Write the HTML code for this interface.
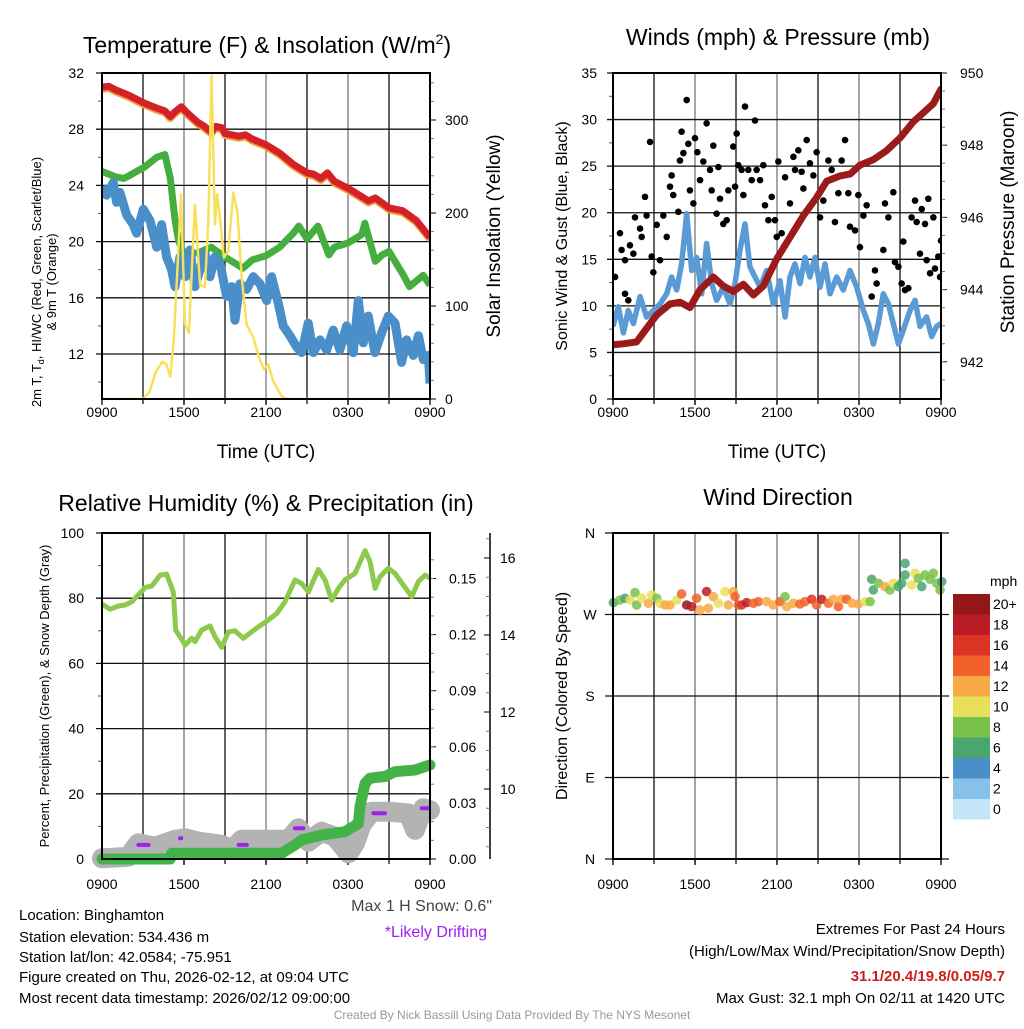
<!DOCTYPE html>
<html><head><meta charset="utf-8"><style>
body{margin:0;background:#fff;}
svg text{font-family:"Liberation Sans",sans-serif;}
</style></head><body>
<svg id="c" width="1024" height="1024" viewBox="0 0 1024 1024" xmlns="http://www.w3.org/2000/svg">
<rect width="1024" height="1024" fill="#fff"/>
<text x="267" y="53" font-size="23" text-anchor="middle">Temperature (F) &amp; Insolation (W/m<tspan dy="-9" font-size="14">2</tspan><tspan dy="9">)</tspan></text>
<text x="778" y="45" font-size="23" text-anchor="middle">Winds (mph) &amp; Pressure (mb)</text>
<text x="266" y="511" font-size="23" text-anchor="middle">Relative Humidity (%) &amp; Precipitation (in)</text>
<text x="778" y="505" font-size="23" text-anchor="middle">Wind Direction</text>
<text x="266" y="458" font-size="19" text-anchor="middle">Time (UTC)</text>
<text x="777" y="458" font-size="19" text-anchor="middle">Time (UTC)</text>
<text transform="translate(41,282) rotate(-90)" font-size="13" text-anchor="middle">2m T, T<tspan font-size="9" dy="3">d</tspan><tspan dy="-3">, HI/WC (Red, Green, Scarlet/Blue)</tspan></text>
<text transform="translate(56,282) rotate(-90)" font-size="13" text-anchor="middle">&amp; 9m T (Orange)</text>
<text transform="translate(500,236) rotate(-90)" font-size="19" text-anchor="middle">Solar Insolation (Yellow)</text>
<text transform="translate(567,236) rotate(-90)" font-size="16" text-anchor="middle">Sonic Wind &amp; Gust (Blue, Black)</text>
<text transform="translate(1014,222) rotate(-90)" font-size="19" text-anchor="middle">Station Pressure (Maroon)</text>
<text transform="translate(49,696) rotate(-90)" font-size="13" text-anchor="middle">Percent, Precipitation (Green), &amp; Snow Depth (Gray)</text>
<text transform="translate(567,696) rotate(-90)" font-size="16" text-anchor="middle">Direction (Colored By Speed)</text>
<text x="492" y="911" font-size="16" fill="#444" text-anchor="end">Max 1 H Snow: 0.6"</text>
<text x="487" y="937" font-size="16" fill="#a020f0" text-anchor="end">*Likely Drifting</text>
<g font-size="15">
<text x="19" y="920">Location: Binghamton</text>
<text x="19" y="942">Station elevation: 534.436 m</text>
<text x="19" y="962">Station lat/lon: 42.0584; -75.951</text>
<text x="19" y="982">Figure created on Thu, 2026-02-12, at 09:04 UTC</text>
<text x="19" y="1003">Most recent data timestamp: 2026/02/12 09:00:00</text>
</g>
<g font-size="15" text-anchor="end">
<text x="1005" y="934">Extremes For Past 24 Hours</text>
<text x="1005" y="956">(High/Low/Max Wind/Precipitation/Snow Depth)</text>
<text x="1005" y="981" font-weight="bold" fill="#d01c1c">31.1/20.4/19.8/0.05/9.7</text>
<text x="1005" y="1003">Max Gust: 32.1 mph On 02/11 at 1420 UTC</text>
</g>
<text x="512" y="1019" font-size="12" fill="#999" text-anchor="middle">Created By Nick Bassill Using Data Provided By The NYS Mesonet</text>
</svg>
<script>
// ---- Panel 1 data ----
const redH=[0,0.5,1,2,3,4,4.6,5.0,5.3,5.8,6.2,7,7.5,8,8.3,8.8,9,10,10.5,11,12,13,14,15,15.5,16,16.5,17,18,19,19.5,20,21,22,23,24];
const redV=[31.0,31.05,30.8,30.4,29.9,29.5,29.3,28.9,29.2,29.6,29.2,28.5,28.2,27.8,28.2,28.1,27.7,27.5,27.6,27.3,26.9,26.3,25.5,24.9,24.8,24.5,24.9,24.3,23.8,23.2,22.9,23.1,22.4,22.2,21.5,20.3];
const greenH=[0,1,1.6,2,3.1,4,4.6,5,5.35,5.6,6,7,8,9,9.5,10,10.3,11,12,13,14,14.4,15,15.8,16.6,17,18,19,19.24,20,20.5,21,22,22.5,23.5,24];
const greenV=[25.0,24.6,24.5,24.7,25.3,26.0,26.2,24.5,21.5,20.1,19.05,19.2,19.6,18.9,18.6,18.3,18.1,18.7,19.0,19.6,20.6,21.1,20.2,21.1,19.05,19.6,19.9,20.5,21.3,18.6,19.05,19.3,17.7,16.8,17.6,16.9];
const blueH=[0,0.34,0.83,1.07,1.31,1.8,2.29,2.53,3.02,3.51,4.0,4.36,4.73,5.09,5.34,5.7,6.07,6.44,6.8,7.17,7.53,7.9,8.26,8.63,9.12,9.48,9.73,10.09,10.58,11.07,11.56,12.05,12.41,12.9,13.26,13.75,14.24,14.61,15.09,15.46,15.95,16.44,16.92,17.41,17.9,18.39,18.75,19.12,19.48,19.97,20.46,20.95,21.44,21.92,22.29,22.78,23.15,23.51,23.88,24.0];
const blueV=[23.9,23.3,24.2,22.8,23.5,21.9,21.2,20.6,22.3,21.5,19.6,21.2,18.9,18.0,16.8,18.9,17.5,19.4,16.8,18.0,19.2,17.5,18.9,18.5,16.1,16.8,14.4,17.0,16.6,17.5,17.0,15.8,17.5,15.6,14.0,13.3,12.5,12.1,14.2,12.1,13.0,12.3,13.7,12.3,14.0,12.1,15.8,12.8,14.7,12.1,13.5,14.7,14.2,11.4,13.0,11.9,13.3,11.6,11.9,9.9];
const solH=[0,3.0,3.5,3.9,4.4,4.7,5.0,5.26,5.51,5.78,6.07,6.36,6.8,7.17,7.53,7.78,8.02,8.26,8.43,8.68,8.92,9.24,9.61,9.9,10.22,10.58,11.07,11.51,11.85,12.17,12.53,13.14,13.51,24];
const solV=[0,0,8,28,40,38,24,66,137,220,80,71,209,123,120,191,348,188,220,188,152,159,222,202,131,80,66,44,32,37,19,3,0,0];
const p1YTicks=[12,16,20,24,28,32];
const p1STicks=[0,100,200,300];
const xTickLabels=["0900","1500","2100","0300","0900"];
const xTickHours=[0,6,12,18,24];
// ---- Panel 2 data ----
const presH=[0,0.75,1.73,2.22,3.2,4.17,4.9,5.63,6.37,7.34,8.07,8.8,9.54,10.27,11.0,11.98,12.95,13.93,14.9,15.63,16.61,17.34,18.07,19.05,20.02,21.0,21.98,22.71,23.44,24];
const presV=[942.47,942.5,942.55,942.8,943.3,943.6,943.65,943.5,944.0,944.35,944.1,943.95,944.15,943.85,944.1,944.85,945.45,946.05,946.55,947.0,947.15,947.2,947.45,947.6,947.85,948.2,948.65,948.9,949.15,949.55];
const windH=[0,0.39,0.76,1.12,1.49,1.98,2.46,2.95,3.44,3.93,4.29,4.66,5.02,5.39,5.76,6.12,6.49,6.85,7.22,7.58,8.07,8.56,8.93,9.29,9.66,10.02,10.39,10.76,11.24,11.73,12.22,12.59,12.95,13.32,13.68,14.05,14.41,14.78,15.15,15.51,15.88,16.37,16.85,17.34,17.83,18.32,18.68,19.05,19.41,19.78,20.15,20.51,20.88,21.24,21.73,22.1,22.46,22.95,23.32,23.68,24];
const windV=[7.8,9.9,7.1,9.5,8.1,11.0,8.8,9.5,10.2,11.3,13.1,11.7,14.5,19.9,13.8,15.2,11.3,16.7,12.4,10.6,12.0,10.2,12.4,16.0,18.8,14.2,13.1,12.0,13.8,10.2,12.7,8.8,13.1,14.5,12.4,15.2,13.1,15.2,12.0,14.5,11.3,13.1,11.7,13.8,12.0,9.5,8.1,5.9,8.1,11.3,10.2,8.1,5.9,7.4,9.5,10.6,7.8,8.8,6.7,7.8,8.1];
const gustH=[0.15,0.51,0.63,0.88,0.88,1.12,1.24,1.49,1.61,1.98,2.1,2.34,2.46,2.71,2.83,2.95,3.2,3.44,3.68,3.93,4.17,4.29,4.41,4.78,4.9,5.02,5.15,5.39,5.51,5.63,5.88,6.0,6.17,6.37,6.61,6.85,7.1,7.22,7.34,7.58,7.71,7.83,8.07,8.32,8.44,8.8,8.93,9.05,9.17,9.41,9.54,9.66,9.9,10.15,10.39,10.51,10.76,11.0,11.12,11.37,11.61,11.85,11.98,12.1,12.34,12.59,12.95,13.2,13.32,13.56,13.8,13.93,14.17,14.41,14.66,14.9,15.15,15.39,15.76,16.0,16.24,16.49,16.73,16.98,17.22,17.34,17.71,17.95,18.07,18.32,18.56,18.93,19.17,19.29,19.54,19.78,19.9,20.15,20.51,20.63,20.88,21.12,21.24,21.37,21.61,21.85,22.1,22.22,22.46,22.59,22.83,22.95,23.07,23.2,23.44,23.56,23.8,23.93,24.0];
const gustV=[13.1,17.8,16.0,14.9,11.3,10.6,16.5,15.6,19.5,18.3,17.4,21.7,19.7,27.6,15.3,13.6,18.7,14.9,19.7,17.4,22.8,24.0,21.9,20.1,25.6,28.7,26.4,32.1,27.4,22.4,21.0,28.0,26.5,23.5,25.5,29.6,24.6,22.4,27.2,19.9,24.9,21.5,18.8,19.2,22.4,27.1,22.8,28.5,25.1,24.6,21.9,31.4,24.6,23.5,29.9,24.6,23.5,25.1,20.8,19.2,21.7,19.2,17.4,25.5,17.8,23.8,21.0,26.0,24.6,26.7,24.4,22.6,27.8,25.3,24.0,26.5,19.5,21.3,25.6,24.6,19.0,22.1,25.6,27.8,22.1,18.5,18.1,21.9,16.3,19.7,20.8,11.0,13.8,12.4,26.2,16.0,21.0,19.5,22.2,14.7,14.2,12.4,16.9,11.7,11.9,19.5,21.3,19.0,15.6,20.4,18.8,14.9,21.5,13.5,19.5,14.0,15.3,13.1,17.0];
const windTicks=[0,5,10,15,20,25,30,35];
const presTicks=[942,944,946,948,950];
// ---- Panel 3 data ----
const rhH=[0,0.59,1.2,1.69,2.17,2.66,3.15,3.64,4.25,4.73,5.22,5.39,5.71,6.08,6.56,6.81,7.29,7.9,8.27,8.76,9.25,9.73,10.34,10.95,11.44,12.17,12.78,13.39,14.12,14.61,15.1,15.83,16.32,16.81,17.3,17.78,18.51,19.25,19.61,19.98,20.34,20.95,21.44,22.05,22.66,23.15,23.64,24];
const rhV=[78.2,76.6,77.6,77.9,78.9,81.0,83.3,83.7,87.1,87.4,81.9,70.2,68.2,65.6,67.7,66.7,70.2,71.5,68.2,64.9,69.7,70.0,67.7,69.7,71.2,73.3,75.3,78.9,85.6,84.5,81.9,88.8,85.6,79.4,83.0,85.6,87.6,94.6,91.2,83.0,86.6,89.2,87.6,84.0,80.5,85.1,87.1,86.1];
const prH=[0,5.0,5.1,13.15,14.12,14.61,16.07,17.78,18.76,18.88,19.25,19.61,20.71,21.44,22.9,24];
const prV=[0,0,0.0031,0.0031,0.0075,0.0102,0.0128,0.0146,0.019,0.028,0.0405,0.0432,0.0441,0.0467,0.0476,0.0503];
const snH=[0,1.93,2.66,3.88,5.34,6.08,7.05,8.76,9.49,10.22,13.64,14.37,15.1,16.07,17.05,18.03,18.51,19.0,19.73,20.95,22.42,22.9,23.51,24];
const snV=[8.2,8.24,8.59,8.5,8.68,8.72,8.63,8.55,8.42,8.68,8.68,8.98,8.63,8.89,8.76,8.33,8.59,9.08,9.41,9.41,9.37,8.94,9.5,9.45];
const driftStart=[2.66,5.71,10.0,14.12,19.86,23.4];
const driftEnd=[3.4,5.8,10.6,14.73,20.71,23.9];
const driftV=[8.55,8.72,8.55,8.98,9.37,9.5];
const rhTicks=[0,20,40,60,80,100];
const prTicks=[0,0.03,0.06,0.09,0.12,0.15];
const prTickLabels=["0.00","0.03","0.06","0.09","0.12","0.15"];
const snTicks=[10,12,14,16];
// ---- Panel 4 data ----
const dirH=[0.03,0.51,0.88,1.25,1.61,1.73,2.1,2.59,2.83,3.2,3.44,3.81,4.17,4.66,5.02,5.39,5.76,6.12,6.37,6.85,6.98,7.34,7.71,8.2,8.44,8.8,8.93,9.17,9.42,9.78,10.27,10.64,11.24,11.73,12.22,12.59,12.71,13.2,13.68,14.05,14.54,14.9,15.27,15.76,16.12,16.49,16.73,17.1,17.49,17.95,18.44,18.81,18.93,19.05,19.42,19.9,20.27,20.51,20.88,21.12,21.37,21.37,21.85,22.1,22.34,22.59,22.83,23.2,23.44,23.68,23.93,24.05];
const dirV=[283.1,286,287.9,286,294.2,280.5,287.9,282.4,291.6,287.9,282.4,280.5,280.5,286,292.7,280.5,278.7,287.9,275,295.3,276.9,289.7,282.4,295.3,280.5,295.3,289.7,280.5,280.5,283.1,282.4,284.2,284.2,280.5,284.2,289.7,278.7,282.4,281.6,284.2,286.8,280.5,286.8,282.4,286.8,278.7,286.8,286.8,282.4,281.6,284.2,284.2,308.9,297.1,304.5,300.8,297.1,304.5,300.8,304.5,326.5,313.7,302.6,315.5,309.8,300.8,313.7,308.9,315.5,304.5,297.1,306.3];
const dirS=[6,8,6,10,8,8,10,12,10,8,10,12,12,10,14,20,18,14,12,18,12,12,10,10,12,12,14,14,16,18,14,14,12,12,14,8,12,12,14,14,16,14,18,14,12,14,12,14,12,12,10,8,6,6,8,12,8,10,6,6,6,6,10,10,8,6,8,8,8,8,8,6];
const dirTicks=[0,90,180,270,360];
const dirLabels=["N","E","S","W","N"];
const cbLabels=["20+","18","16","14","12","10","8","6","4","2","0"];
const cbColors=["#931619","#ba1c23","#db3427","#f26129","#f8a944","#e8e05a","#7bc24a","#49a66f","#4a8fc7","#85c1e8","#c2e6f8"];

const NS="http://www.w3.org/2000/svg";
const svg=document.getElementById('c');
const defs=document.createElementNS(NS,'defs');svg.appendChild(defs);
function el(tag,attrs,parent){const e=document.createElementNS(NS,tag);for(const k in attrs)e.setAttribute(k,attrs[k]);(parent||svg).appendChild(e);return e;}
function txt(x,y,s,size,anchor,parent){const t=el('text',{x:x,y:y,'font-size':size,'text-anchor':anchor},parent);t.textContent=s;return t;}
function pathD(hs,vs,sx,sy){let d='';for(let i=0;i<hs.length;i++){d+=(i?'L':'M')+sx(hs[i]).toFixed(1)+','+sy(vs[i]).toFixed(1);}return d;}

function frame(x0,y0,x1,y1,name,labOff){
  const g=el('g',{});
  
  
  for(let i=1;i<8;i++){const x=x0+(x1-x0)*i/8;el('line',{x1:x,y1:y0,x2:x,y2:y1,stroke:i%2?'#111':'#777','stroke-width':1.3},g);
    el('line',{x1:x,y1:y1,x2:x,y2:y1+5,stroke:'#000','stroke-width':1.2},g);}
  xTickHours.forEach((h,i)=>{const x=x0+(x1-x0)*h/24;el('line',{x1:x,y1:y1,x2:x,y2:y1+6,stroke:'#000','stroke-width':1.3},g);
    const t=txt(x,y1+labOff,xTickLabels[i],14,'middle',g);
    
    });
  return g;
}
function border(x0,y0,x1,y1){el('rect',{x:x0,y:y0,width:x1-x0,height:y1-y0,fill:'none',stroke:'#000','stroke-width':2});}

// ===== Panel 1 =====
(function(){
  const X0=102,X1=430,Y0=73,Y1=399;
  const sx=h=>X0+h*(X1-X0)/24, sy=v=>Y0+(32-v)*14.05, ss=v=>Y1-v*0.93;
  const g=frame(X0,Y0,X1,Y1,'temperature-grid',18);
  p1YTicks.forEach(v=>{const y=sy(v);el('line',{x1:X0-6,y1:y,x2:X1,y2:y,stroke:'#111','stroke-width':1.3},g);
    const t=txt(84,y+5,String(v),14,'end',g);
    
    
    el('line',{x1:X0-4,y1:sy(v-2),x2:X0,y2:sy(v-2),stroke:'#555'},g);});
  p1STicks.forEach(v=>{const y=ss(v);el('line',{x1:X1,y1:y,x2:X1+6,y2:y,stroke:'#000'},g);
    const t=txt(445,y+5,String(v),14,'start',g);
    
    });
  for(let v=20;v<=340;v+=20){if(v%100)el('line',{x1:X1,y1:ss(v),x2:X1+4,y2:ss(v),stroke:'#777'},g);}
  const cp=el('clipPath',{id:'cp1'},defs);el('rect',{x:X0,y:Y0,width:X1-X0,height:Y1-Y0},cp);
  const s=el('g',{'clip-path':'url(#cp1)'});
  let p;
  p=el('path',{d:pathD(redH,redV,sx,sy),fill:'none',stroke:'#f39a3a','stroke-width':7,'stroke-linejoin':'round',transform:'translate(0,2)'},s);
  
  
  p=el('path',{d:pathD(redH,redV,sx,sy),fill:'none',stroke:'#d42027','stroke-width':7,'stroke-linejoin':'round'},s);
  
  
  p=el('path',{d:pathD(greenH,greenV,sx,sy),fill:'none',stroke:'#44ae3e','stroke-width':7,'stroke-linejoin':'round'},s);
  
  
  p=el('path',{d:pathD(blueH,blueV,sx,sy),fill:'none',stroke:'#4a8fc9','stroke-width':9,'stroke-linejoin':'round'},s);
  
  
  p=el('path',{d:pathD(solH,solV,sx,ss),fill:'none',stroke:'#f9e05a','stroke-width':2.5,'stroke-linejoin':'round'},s);
  
  
  border(X0,Y0,X1,Y1);
})();

// ===== Panel 2 =====
(function(){
  const X0=613,X1=941,Y0=73,Y1=399;
  const sx=h=>X0+h*(X1-X0)/24, sy=v=>Y1-v*9.314, sp=v=>Y0+(950-v)*36.1;
  const g=frame(X0,Y0,X1,Y1,'winds-grid',18);
  windTicks.forEach(v=>{const y=sy(v);el('line',{x1:X0-6,y1:y,x2:X1,y2:y,stroke:'#111','stroke-width':1.3},g);
    const t=txt(597,y+5,String(v),14,'end',g);
    
    
    if(v<35)el('line',{x1:X0-4,y1:sy(v+2.5),x2:X0,y2:sy(v+2.5),stroke:'#555'},g);});
  presTicks.forEach(v=>{const y=sp(v);el('line',{x1:X1,y1:y,x2:X1+6,y2:y,stroke:'#000'},g);
    const t=txt(960,y+5,String(v),14,'start',g);
    
    });
  for(let v=941.5;v<950;v+=0.5){el('line',{x1:X1,y1:sp(v),x2:X1+4,y2:sp(v),stroke:'#777'},g);}
  const cp=el('clipPath',{id:'cp2'},defs);el('rect',{x:X0,y:Y0,width:X1-X0,height:Y1-Y0},cp);
  const s=el('g',{'clip-path':'url(#cp2)'});
  let p=el('path',{d:pathD(windH,windV,sx,sy),fill:'none',stroke:'#5b9bd5','stroke-width':5.5,'stroke-linejoin':'round'},s);
  
  
  gustH.forEach((h,i)=>{const c=el('circle',{cx:sx(h),cy:sy(gustV[i]),r:3.3,fill:'#000'},s);
    
    });
  p=el('path',{d:pathD(presH,presV,sx,sp),fill:'none',stroke:'#9b1b1b','stroke-width':7,'stroke-linejoin':'round','stroke-linecap':'round'},s);
  
  
  border(X0,Y0,X1,Y1);
})();

// ===== Panel 3 =====
(function(){
  const X0=102,X1=430,Y0=533,Y1=859;
  const sx=h=>X0+h*(X1-X0)/24, sy=v=>Y1-v*3.26, sp=v=>Y1-v/0.03*56.1, sn=v=>558+(16-v)*38.5;
  const g=frame(X0,Y0,X1,Y1,'humidity-grid',30);
  rhTicks.forEach(v=>{const y=sy(v);el('line',{x1:X0-6,y1:y,x2:X1,y2:y,stroke:'#111','stroke-width':1.3},g);
    const t=txt(84,y+5,String(v),14,'end',g);
    
    
    if(v<100)el('line',{x1:X0-4,y1:sy(v+10),x2:X0,y2:sy(v+10),stroke:'#555'},g);});
  prTicks.forEach((v,i)=>{const y=sp(v);el('line',{x1:X1,y1:y,x2:X1+6,y2:y,stroke:'#000'},g);
    const t=txt(449,y+5,prTickLabels[i],14,'start',g);
    
    });
  for(let v=0.01;v<0.17;v+=0.01){el('line',{x1:X1,y1:sp(v),x2:X1+4,y2:sp(v),stroke:'#777'},g);}
  el('line',{x1:490,y1:533,x2:490,y2:859,stroke:'#000','stroke-width':1.5},g);
  snTicks.forEach(v=>{const y=sn(v);el('line',{x1:484,y1:y,x2:490,y2:y,stroke:'#000'},g);
    const t=txt(500,y+5,String(v),14,'start',g);
    
    });
  for(let v=8.5;v<17;v+=0.5){if(v%2)el('line',{x1:486,y1:sn(v),x2:490,y2:sn(v),stroke:'#777'},g);}
  const cp=el('clipPath',{id:'cp3'},defs);el('rect',{x:X0-12,y:Y0,width:X1-X0+24,height:Y1-Y0+12},cp);
  const s=el('g',{'clip-path':'url(#cp3)'});
  let p=el('path',{d:pathD(snH,snV,sx,sn),fill:'none',stroke:'#b3b3b3','stroke-width':20,'stroke-linejoin':'round','stroke-linecap':'round'},s);
  
  
  driftStart.forEach((h,i)=>{const d=el('line',{x1:sx(h),y1:sn(driftV[i]),x2:sx(driftEnd[i]),y2:sn(driftV[i]),stroke:'#a020f0','stroke-width':4,'stroke-linecap':'round'},s);
    
    });
  p=el('path',{d:pathD(prH,prV,sx,sp),fill:'none',stroke:'#44b347','stroke-width':11,'stroke-linejoin':'round','stroke-linecap':'round'},s);
  
  
  p=el('path',{d:pathD(rhH,rhV,sx,sy),fill:'none',stroke:'#8dc94c','stroke-width':5,'stroke-linejoin':'round'},s);
  
  
  border(X0,Y0,X1,Y1);
})();

// ===== Panel 4 =====
(function(){
  const X0=613,X1=941,Y0=533,Y1=859;
  const sx=h=>X0+h*(X1-X0)/24, sy=d=>Y1-d*(Y1-Y0)/360;
  const g=frame(X0,Y0,X1,Y1,'direction-grid',30);
  dirTicks.forEach((d,i)=>{const y=sy(d);el('line',{x1:X0-8,y1:y,x2:X1+8,y2:y,stroke:'#111','stroke-width':1.3},g);
    const t=txt(590,y+5,dirLabels[i],14,'middle',g);
    
    });
  const s=el('g',{'fill-opacity':0.85});
  dirH.forEach((h,i)=>{const idx=Math.max(0,Math.min(10,10-Math.floor(dirS[i]/2)));
    const c=el('circle',{cx:sx(h),cy:sy(dirV[i]),r:4.8,fill:cbColors[idx]},s);
    
    });
  border(X0,Y0,X1,Y1);
  const cb=el('g',{});
  
  
  txt(990,586,'mph',14,'start',cb);
  cbColors.forEach((c,i)=>{el('rect',{x:953,y:594+i*20.5,width:37,height:20.5,fill:c},cb);
    const t=txt(993,609+i*20.5,cbLabels[i],14,'start',cb);
    
    });
})();
</script>
</body></html>
